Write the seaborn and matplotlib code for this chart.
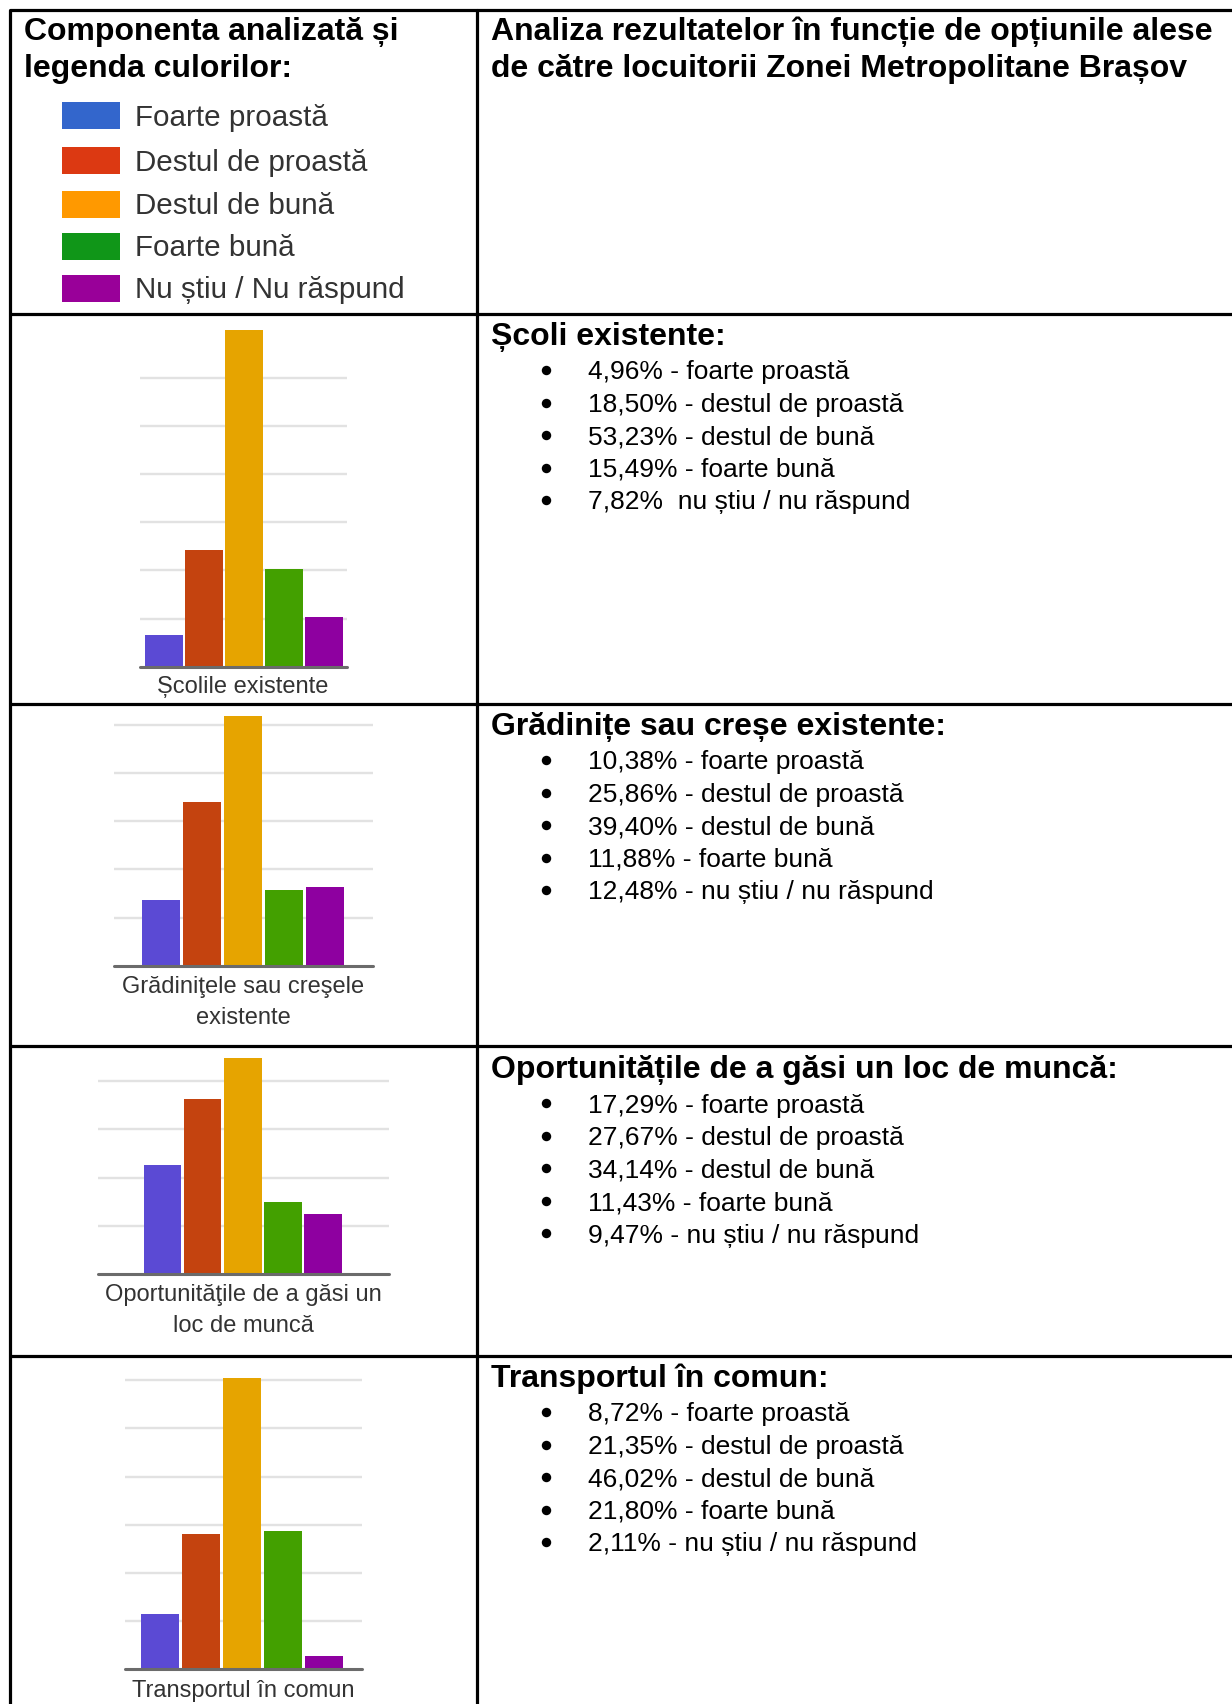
import numpy as np
import pandas as pd
import matplotlib
matplotlib.use("Agg")
import matplotlib.pyplot as plt
import seaborn as sns
from matplotlib.patches import Rectangle

# ---------------- data ----------------
levels = ["Foarte proastă", "Destul de proastă", "Destul de bună", "Foarte bună", "Nu știu / Nu răspund"]
bullet_labels = ["foarte proastă", "destul de proastă", "destul de bună", "foarte bună", "nu știu / nu răspund"]

section_titles = ["Școli existente:", "Grădinițe sau creșe existente:",
                  "Oportunitățile de a găsi un loc de muncă:", "Transportul în comun:"]
chart_labels = ["Școlile existente", "Grădiniţele sau creşele\nexistente",
                "Oportunităţile de a găsi un\nloc de muncă", "Transportul în comun"]

scoli = [4.96, 18.50, 53.23, 15.49, 7.82]
gradinite = [10.38, 25.86, 39.40, 11.88, 12.48]
oportunitati = [17.29, 27.67, 34.14, 11.43, 9.47]
transport = [8.72, 21.35, 46.02, 21.80, 2.11]
series = [scoli, gradinite, oportunitati, transport]

header_left = "Componenta analizată și\nlegenda culorilor:"
header_right = "Analiza rezultatelor în funcție de opțiunile alese\nde către locuitorii Zonei Metropolitane Brașov"

legend_colors = ["#3366cc", "#dc3912", "#ff9900", "#109618", "#990099"]
bar_colors = ["#5b4ad4", "#c4430f", "#e6a400", "#43a000", "#8e00a0"]

# ---------------- layout (pixels) ----------------
W, H, DPI = 1232, 1704, 100
PX_PER_PCT = 6.33
GRID_STEP = 48.2 / PX_PER_PCT

sns.set_theme(style="white")
plt.rcParams["font.family"] = ["Liberation Sans", "DejaVu Sans"]

fig = plt.figure(figsize=(W / DPI, H / DPI), dpi=DPI)
fig.patch.set_facecolor("white")
bg = fig.add_axes([0, 0, 1, 1])
bg.set_xlim(0, W)
bg.set_ylim(H, 0)
bg.axis("off")

# table lines
row_lines = [10, 314, 704, 1046, 1356]
LW = 2.3
for y in row_lines:
    bg.plot([10, W], [y, y], color="black", lw=LW, solid_capstyle="butt")
bg.plot([10, 10], [10, H], color="black", lw=LW)
bg.plot([476.5, 476.5], [10, H], color="black", lw=LW)

# headers
for i, line in enumerate(header_left.split("\n")):
    bg.text(24, 40 + 37 * i, line, fontsize=23, fontweight="bold", va="baseline", ha="left", color="black")
for i, line in enumerate(header_right.split("\n")):
    bg.text(491, 40 + 37 * i, line, fontsize=23, fontweight="bold", va="baseline", ha="left", color="black")

# legend
leg_centers = [115.5, 160.5, 204, 246, 288]
for c, lab, yc in zip(legend_colors, levels, leg_centers):
    bg.add_patch(Rectangle((62, yc - 13.5), 58, 27, facecolor=c, edgecolor="none"))
    bg.text(135, yc + 10.5, lab, fontsize=21.3, va="baseline", ha="left", color="#333333")

# right-hand text blocks
title_baselines = [345, 735, 1078, 1387]
BUL_SP = 32.5
for t, vals, yb in zip(section_titles, series, title_baselines):
    bg.text(491, yb, t, fontsize=23, fontweight="bold", va="baseline", ha="left", color="black")
    for j, (v, lab) in enumerate(zip(vals, bullet_labels)):
        num = f"{v:.2f}".replace(".", ",") + "%"
        sep = "  " if (vals is scoli and j == 4) else " - "
        y = yb + 34.5 + BUL_SP * j
        bg.plot([546], [y - 9.5], marker="o", ms=6.8, color="black", mew=0)
        bg.text(588, y, num + sep + lab, fontsize=19, va="baseline", ha="left", color="black")

# ---------------- charts ----------------
chart_specs = [
    # grid_left, grid_right, baseline, top, group_center, slot, n_grid, label_baseline
    (140, 347, 666.7, 316, 244, 40.1, 6, 693),
    (114, 373, 965.7, 706, 243, 41.0, 5, 993),
    (98, 389, 1274, 1048, 242.8, 40.2, 4, 1301),
    (125, 362, 1669.3, 1358, 242, 40.9, 6, 1697),
]

for vals, lab, spec in zip(series, chart_labels, chart_specs):
    gl, gr, base, top, cx, slot, ng, lby = spec
    ax = fig.add_axes([gl / W, 1 - base / H, (gr - gl) / W, (base - top) / H])
    ax.patch.set_alpha(0)
    df = pd.DataFrame({"cat": levels, "val": vals})
    sns.barplot(data=df, x="cat", y="val", hue="cat", order=levels, hue_order=levels,
                palette=bar_colors, saturation=1, width=0.94, legend=False, ax=ax,
                edgecolor="none", zorder=3)
    ax.set_xlim(2 - (cx - gl) / slot, 2 + (gr - cx) / slot)
    ax.set_ylim(0, (base - top) / PX_PER_PCT)
    for k in range(1, ng + 1):
        ax.axhline(k * GRID_STEP, color="#e2e2e2", lw=1.7, zorder=1)
    ax.axhline(0, color="#6b6b6b", lw=2.2, zorder=4, clip_on=False)
    ax.axis("off")
    for i, line in enumerate(lab.split("\n")):
        bg.text(243, lby + 31.5 * i, line, fontsize=17, va="baseline", ha="center", color="#333333")

fig.savefig("out.png", dpi=DPI, facecolor="white")
